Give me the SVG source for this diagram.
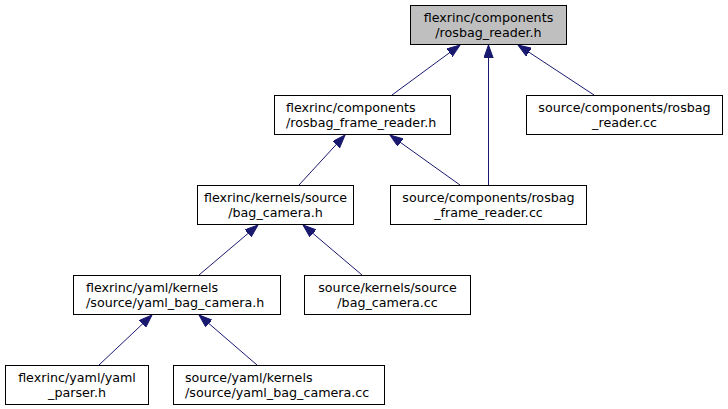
<svg xmlns="http://www.w3.org/2000/svg" width="728" height="409" viewBox="0 0 728 409">
<defs>
<style>
.node rect{fill:#ffffff;stroke:#000000;stroke-width:1}
.node.root rect{fill:#bfbfbf}
.node text{font-family:"DejaVu Sans","Liberation Sans",sans-serif;font-size:12.7px;fill:#000000}
.c{text-anchor:middle}
.l{text-anchor:start}
.edges line{stroke:#191970;stroke-width:1;fill:none;marker-end:url(#arr)}
</style>
<marker id="arr" markerUnits="userSpaceOnUse" markerWidth="14" markerHeight="10" refX="13" refY="4.7" orient="auto">
<path d="M0,0 L13,4.7 L0,9.4 Z" fill="#191970" stroke="#191970" stroke-width="1"/>
</marker>
</defs>
<rect width="728" height="409" fill="#ffffff"/>
<g class="edges" id="edges">
<line x1="392" y1="95" x2="460" y2="45"/>
<line x1="488.5" y1="185" x2="488.5" y2="45"/>
<line x1="594" y1="95" x2="518" y2="45"/>
<line x1="299" y1="185" x2="345" y2="135"/>
<line x1="460" y1="185" x2="390" y2="135"/>
<line x1="199" y1="275" x2="258" y2="225"/>
<line x1="362" y1="275" x2="303" y2="225"/>
<line x1="99" y1="365" x2="152" y2="315"/>
<line x1="257" y1="365" x2="199" y2="315"/>
</g>
<g class="node root" id="n1">
<rect x="410.5" y="5.5" width="156" height="39"/>
<text class="c" x="488.5" y="22">flexrinc/components</text>
<text class="c" x="488.5" y="37">/rosbag_reader.h</text>
</g>
<g class="node" id="n2">
<rect x="274.5" y="95.5" width="176" height="39"/>
<text class="l" x="286" y="112">flexrinc/components</text>
<text class="l" x="286" y="127">/rosbag_frame_reader.h</text>
</g>
<g class="node" id="n7">
<rect x="526.5" y="95.5" width="196" height="39"/>
<text class="c" x="624.5" y="112">source/components/rosbag</text>
<text class="c" x="624.5" y="127">_reader.cc</text>
</g>
<g class="node" id="n3">
<rect x="197.5" y="185.5" width="156" height="39"/>
<text class="c" x="275.5" y="202">flexrinc/kernels/source</text>
<text class="c" x="275.5" y="217">/bag_camera.h</text>
</g>
<g class="node" id="n6">
<rect x="390.5" y="185.5" width="196" height="39"/>
<text class="c" x="488.5" y="202">source/components/rosbag</text>
<text class="c" x="488.5" y="217">_frame_reader.cc</text>
</g>
<g class="node" id="n4">
<rect x="73.5" y="275.5" width="207" height="39"/>
<text class="l" x="86" y="292">flexrinc/yaml/kernels</text>
<text class="l" x="86" y="307">/source/yaml_bag_camera.h</text>
</g>
<g class="node" id="n5">
<rect x="304.5" y="275.5" width="166" height="39"/>
<text class="c" x="387.5" y="292">source/kernels/source</text>
<text class="c" x="387.5" y="307">/bag_camera.cc</text>
</g>
<g class="node" id="n8">
<rect x="5.5" y="365.5" width="143" height="39"/>
<text class="c" x="77" y="382">flexrinc/yaml/yaml</text>
<text class="c" x="77" y="397">_parser.h</text>
</g>
<g class="node" id="n9">
<rect x="173.5" y="365.5" width="211" height="39"/>
<text class="l" x="185" y="382">source/yaml/kernels</text>
<text class="l" x="185" y="397">/source/yaml_bag_camera.cc</text>
</g>
</svg>
